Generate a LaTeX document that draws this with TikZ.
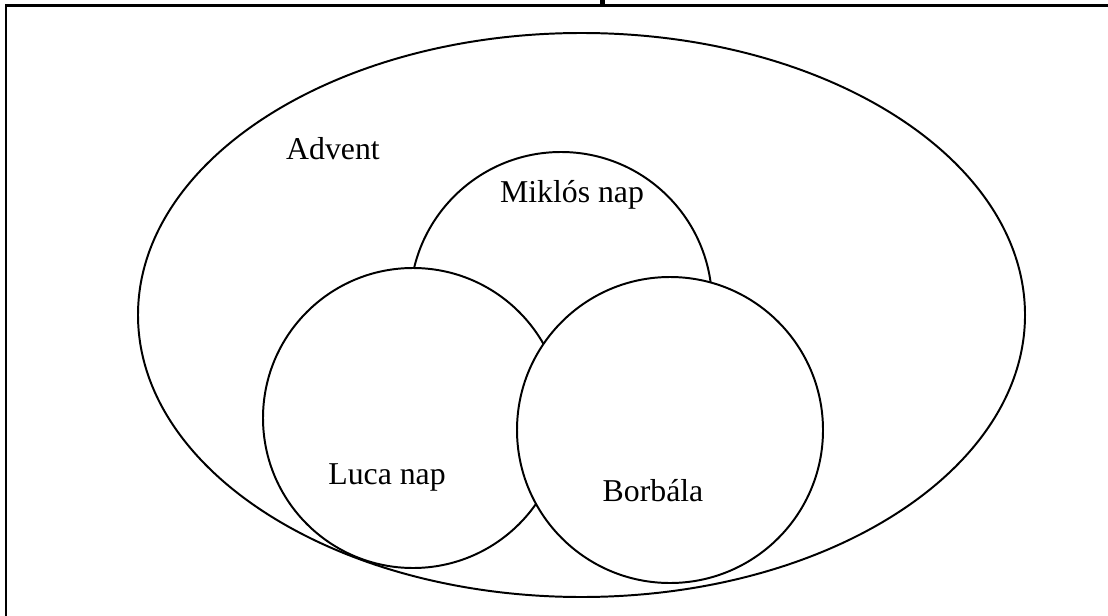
\documentclass[tikz,border=0pt]{standalone}
\usepackage{fontspec}
\setmainfont{Liberation Serif}
\usetikzlibrary{shapes.geometric}

\tikzset{
  set/.style={draw, line width=1.4pt, fill=white, inner sep=0pt},
  setcircle/.style={set, circle, minimum size=#1},
  label/.style={font=\fontsize{22.6}{26}\selectfont, inner sep=0pt},
  frameline/.style={line width=1.8pt}
}

\begin{document}
\begin{tikzpicture}[x=0.025cm, y=-0.025cm]

    \useasboundingbox (0,0) rectangle (1108,616);

    % Frame
    \coordinate (ftl) at (6,5.5);
    \coordinate (ftr) at (1108,5.5);
    \coordinate (fbl) at (6,616);
    \draw[frameline] (fbl) -- (ftl) -- (ftr);
    \fill (600,0) rectangle (605,6);

    % Define nodes
    \node[set, ellipse, minimum width=887*0.025cm, minimum height=564*0.025cm]
                                             (advent) at (581.5,315) {};
    \node[setcircle=302*0.025cm]             (miklos) at (561,303) {};
    \node[setcircle=300*0.025cm]             (luca)   at (413,418) {};
    \node[setcircle=306*0.025cm]             (borbala) at (670,430) {};

    % Labels
    \node[label] (tadvent)  at (333,149) {Advent};
    \node[label] (tmiklos)  at (572,195) {Miklós nap};
    \node[label] (tluca)    at (387,477) {Luca nap};
    \node[label] (tborbala) at (653,491) {Borbála};

\end{tikzpicture}
\end{document}
